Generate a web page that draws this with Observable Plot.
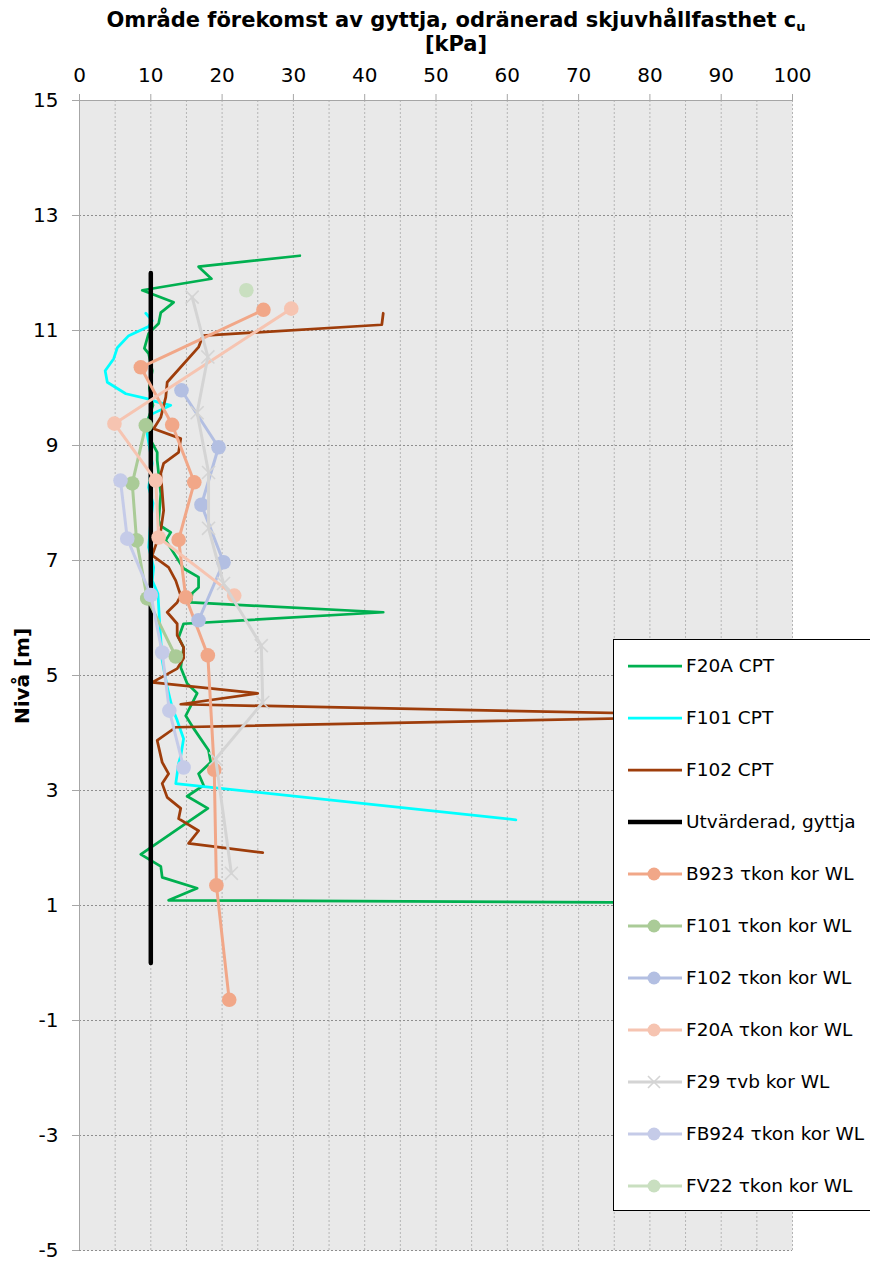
<!DOCTYPE html>
<html>
<head>
<meta charset="utf-8">
<script src="https://cdn.jsdelivr.net/npm/d3@7"></script>
<script src="https://cdn.jsdelivr.net/npm/@observablehq/plot@0.6"></script>
<style>
  html, body { margin: 0; padding: 0; background: #fff; }
  body { width: 870px; height: 1263px; overflow: hidden; position: relative;
         font-family: "DejaVu Sans", Verdana, sans-serif; color: #000; }
  #chart { position: absolute; left: 0; top: 0; }
  #title { position: absolute; left: 0; width: 912px; top: 8px; text-align: center;
           font-weight: bold; font-size: 21px; line-height: 24px; }
  #title sub { font-size: 13px; line-height: 0; vertical-align: -4px; }
  #ylabel { position: absolute; left: 22px; top: 676px; transform: translate(-50%, -50%) rotate(-90deg);
            font-weight: bold; font-size: 20px; white-space: nowrap; }
  #legend { position: absolute; left: 613px; top: 639px; width: 280px; height: 572px;
            box-sizing: border-box; border: 1px solid #000; background: #fff; }
  .row { position: absolute; left: 0; height: 24px; width: 100%; }
  .row svg { position: absolute; left: 13px; top: 2px; }
  .row span { position: absolute; left: 72px; top: 0; font-size: 18.5px; line-height: 24px; white-space: nowrap; }
</style>
</head>
<body>
<div id="chart"></div>
<div id="title">Område förekomst av gyttja, odränerad skjuvhållfasthet c<sub>u</sub><br>[kPa]</div>
<div id="ylabel">Nivå [m]</div>
<div id="legend"></div>
<script>
// Axis ticks
const kpaLabels = [0, 10, 20, 30, 40, 50, 60, 70, 80, 90, 100];
const kpaGrid = [5, 10, 15, 20, 25, 30, 35, 40, 45, 50, 55, 60, 65, 70, 75, 80, 85, 90, 95, 100];
const levels = [15, 13, 11, 9, 7, 5, 3, 1, -1, -3, -5];

// CPT soundings: [cu kPa, level m]
const f20aCpt = [
  [30.9, 12.30], [16.7, 12.11], [18.5, 11.90], [8.8, 11.70], [13.2, 11.49], [11.4, 11.31],
  [11.1, 11.12], [9.7, 10.95], [9.1, 10.69], [9.7, 10.60], [10.2, 10.30], [9.8, 10.00],
  [10.3, 9.70], [9.6, 9.45], [10.0, 9.09], [10.9, 8.88], [10.9, 8.74], [11.1, 8.51],
  [11.4, 8.16], [11.1, 7.70], [11.4, 7.60], [12.8, 7.49], [12.1, 7.35], [14.6, 6.86],
  [16.7, 6.71], [16.7, 6.53], [15.8, 6.43], [15.6, 6.27], [42.6, 6.10], [14.6, 5.90],
  [13.9, 5.66], [14.6, 5.49], [14.2, 5.14], [15.1, 4.86], [16.5, 4.69], [14.9, 4.30],
  [16.0, 4.08], [18.1, 3.70], [18.4, 3.49], [16.7, 3.29], [17.4, 3.09], [15.1, 2.90],
  [18.0, 2.69], [8.6, 1.89], [11.4, 1.68], [11.6, 1.49], [16.5, 1.30], [12.5, 1.09],
  [100, 1.04]
];
const f101Cpt = [
  [9.3, 11.30], [10.2, 11.17], [9.7, 11.07], [6.9, 10.91], [5.3, 10.70], [4.8, 10.51],
  [3.6, 10.30], [3.9, 10.10], [6.5, 9.90], [9.3, 9.82], [11.1, 9.75], [12.8, 9.70],
  [10.2, 9.55], [9.5, 9.35], [9.5, 9.20], [10.2, 8.69], [9.7, 8.27], [10.3, 8.00],
  [10.0, 7.70], [9.7, 7.23], [10.4, 6.88], [10.2, 6.65], [11.0, 6.42], [11.2, 6.00],
  [11.6, 5.26], [12.3, 4.80], [13.0, 4.44], [13.7, 4.22], [14.6, 3.90], [14.2, 3.60],
  [13.9, 3.47], [13.5, 3.12], [61.2, 2.49]
];
const f102Cpt = [
  [42.6, 11.30], [42.4, 11.10], [17.3, 10.91], [16.7, 10.71], [12.3, 10.10], [12.1, 9.84],
  [11.4, 9.49], [10.4, 9.29], [14.2, 9.12], [13.9, 8.88], [11.8, 8.69], [11.4, 8.51],
  [11.8, 7.87], [11.4, 7.52], [10.2, 7.09], [12.5, 6.88], [13.5, 6.65], [14.2, 6.39],
  [13.7, 6.27], [12.3, 6.10], [13.7, 5.90], [13.7, 5.70], [14.6, 5.49], [14.6, 5.30],
  [13.7, 5.12], [10.2, 4.88], [25.0, 4.69], [14.2, 4.50], [95, 4.30], [13.5, 4.10],
  [10.9, 3.87], [11.6, 3.49], [12.5, 3.29], [11.6, 3.12], [12.3, 2.88], [14.2, 2.69],
  [13.9, 2.51], [16.7, 2.30], [15.3, 2.08], [25.7, 1.92]
];
// Evaluated value for gyttja
const evaluated = [[10, 12], [10, 0]];

// Fall cone / vane tests: [cu kPa, level m]
const b923 = [[25.8, 11.36], [8.6, 10.36], [13.0, 9.36], [16.1, 8.36], [13.9, 7.36], [14.9, 6.36],
              [18.0, 5.35], [18.9, 3.36], [19.2, 1.35], [21.0, -0.64]];
const f101Kon = [[9.3, 9.35], [7.4, 8.34], [8.0, 7.35], [9.5, 6.34], [13.5, 5.33]];
const f102Kon = [[14.3, 9.96], [19.5, 8.97], [17.1, 7.97], [20.2, 6.97], [16.7, 5.96]];
const f20aKon = [[29.7, 11.38], [4.9, 9.38], [10.7, 8.39], [11.1, 7.40], [21.7, 6.39]];
const f29Vb = [[15.8, 11.58], [18.0, 10.54], [16.5, 9.57], [18.1, 8.53], [18.1, 7.56], [20.2, 6.60],
               [25.5, 5.52], [25.7, 4.53], [19.1, 3.55], [21.3, 1.56]];
const fb924 = [[5.75, 8.39], [6.7, 7.38], [10.0, 6.40], [11.6, 5.40], [12.6, 4.39], [14.6, 3.40]];
const fv22 = [[23.4, 11.70]];

// Series in drawing order with their styles
const series = [
  {name: "F20A CPT", data: f20aCpt, color: "#00b050", width: 2.75, marker: null},
  {name: "F101 CPT", data: f101Cpt, color: "#00ffff", width: 2.75, marker: null},
  {name: "F102 CPT", data: f102Cpt, color: "#9e3d0b", width: 2.75, marker: null},
  {name: "Utvärderad, gyttja", data: evaluated, color: "#000000", width: 4.5, marker: null},
  {name: "B923 τkon kor WL", data: b923, color: "#f1a788", width: 3, marker: "circle"},
  {name: "F101 τkon kor WL", data: f101Kon, color: "#aacb97", width: 3, marker: "circle"},
  {name: "F102 τkon kor WL", data: f102Kon, color: "#b3bfe2", width: 3, marker: "circle"},
  {name: "F20A τkon kor WL", data: f20aKon, color: "#f6c4b1", width: 3, marker: "circle"},
  {name: "F29 τvb kor WL", data: f29Vb, color: "#d4d4d4", width: 3, marker: "times"},
  {name: "FB924 τkon kor WL", data: fb924, color: "#c5cbe8", width: 3, marker: "circle"},
  {name: "FV22 τkon kor WL", data: fv22, color: "#c9dfc0", width: 3, marker: "circle"}
];

const seriesMarks = series.flatMap(s => {
  const m = [Plot.line(s.data, {x: d => d[0], y: d => d[1], stroke: s.color, strokeWidth: s.width,
                                strokeLinejoin: "round", strokeLinecap: "round", clip: true})];
  if (s.marker === "circle") {
    m.push(Plot.dot(s.data, {x: d => d[0], y: d => d[1], r: 7.3, fill: s.color, stroke: "none", clip: true}));
  } else if (s.marker === "times") {
    m.push(Plot.dot(s.data, {x: d => d[0], y: d => d[1], r: 6, symbol: "times", stroke: s.color, strokeWidth: 1.6, clip: true}));
  }
  return m;
});

const chart = Plot.plot({
  width: 870,
  height: 1263,
  marginTop: 100,
  marginLeft: 79,
  marginRight: 78,
  marginBottom: 13,
  x: {domain: [0, 100]},
  y: {domain: [-5, 15]},
  style: {fontFamily: "DejaVu Sans, Verdana, sans-serif", fontSize: "20px", background: "transparent", color: "#000"},
  marks: [
    Plot.frame({fill: "#e9e9e9", stroke: "none"}),
    Plot.ruleX(kpaGrid, {stroke: "#b5b5b5", strokeDasharray: "2,2"}),
    Plot.ruleY(levels.filter(v => v !== 15), {stroke: "#8e8e8e", strokeDasharray: "2,2"}),
    Plot.ruleY([15], {stroke: "#a6a6a6"}),
    Plot.ruleX([0], {stroke: "#a6a6a6"}),
    Plot.axisX({anchor: "top", ticks: kpaLabels, tickSize: 7, tickPadding: 12, stroke: "#a6a6a6", fill: "#000",
                fontSize: 20, label: null, tickFormat: d => String(d)}),
    Plot.axisY({anchor: "left", ticks: levels, tickSize: 7, tickPadding: 14, stroke: "#a6a6a6", fill: "#000",
                fontSize: 20, label: null, tickFormat: d => String(d)}),
    ...seriesMarks
  ]
});
document.getElementById("chart").append(chart);

// Legend
const legend = document.getElementById("legend");
series.forEach((s, i) => {
  const row = document.createElement("div");
  row.className = "row";
  row.style.top = (14 + 52 * i) + "px";
  let sym = "";
  if (s.marker === "circle") sym = `<circle cx="27" cy="10" r="6.5" fill="${s.color}"/>`;
  if (s.marker === "times") sym = `<path d="M21,4L33,16M33,4L21,16" stroke="${s.color}" stroke-width="1.6"/>`;
  row.innerHTML = `<svg width="56" height="20"><line x1="1" x2="55" y1="10" y2="10" stroke="${s.color}" stroke-width="${s.width}"/>${sym}</svg><span>${s.name}</span>`;
  legend.append(row);
});
</script>
</body>
</html>
